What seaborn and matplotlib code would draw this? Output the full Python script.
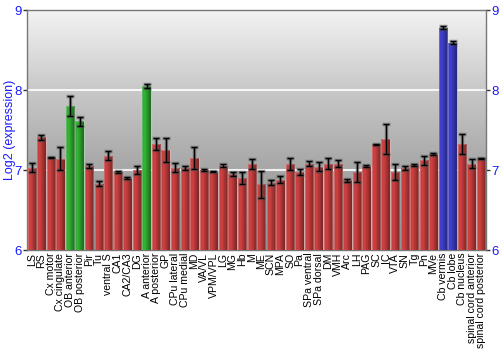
import numpy as np
import pandas as pd
import matplotlib
matplotlib.use("Agg")
import matplotlib.pyplot as plt
import matplotlib.colors as mcolors
import seaborn as sns

regions = ["LS", "RS", "Cx motor", "Cx cingulate", "OB anterior", "OB posterior", "Pir", "Tu",
           "ventral S", "CA1", "CA2/CA3", "DG", "A anterior", "A posterior", "GP", "CPu lateral",
           "CPu medial", "MD", "VA/VL", "VPM/VPL", "LG", "MG", "Hb", "M", "ME", "SCN", "MPA", "SO",
           "Pa", "SPa ventral", "SPa dorsal", "DM", "VMH", "Arc", "LH", "PAG", "SC", "IC", "VTA",
           "SN", "Tg", "Pn", "MVe", "Cb vermis", "Cb lobe", "Cb nucleus", "spinal cord anterior",
           "spinal cord posterior"]
expression = [7.03, 7.41, 7.16, 7.14, 7.80, 7.61, 7.05, 6.83, 7.18, 6.97, 6.90, 7.00,
              8.05, 7.33, 7.25, 7.03, 7.025, 7.15, 7.00, 6.98, 7.054, 6.95, 6.90, 7.075,
              6.82, 6.84, 6.88, 7.075, 6.98, 7.08, 7.04, 7.08, 7.08, 6.87, 6.975, 7.046,
              7.32, 7.39, 6.98, 7.025, 7.06, 7.12, 7.20, 8.78, 8.59, 7.325, 7.08, 7.146]
error = [0.056, 0.033, 0.005, 0.146, 0.12, 0.058, 0.03, 0.033, 0.054, 0.012, 0.01, 0.048,
         0.025, 0.075, 0.146, 0.052, 0.03, 0.14, 0.012, 0.005, 0.015, 0.03, 0.08, 0.058,
         0.167, 0.03, 0.044, 0.075, 0.038, 0.03, 0.058, 0.073, 0.048, 0.015, 0.12, 0.012,
         0.003, 0.19, 0.10, 0.02, 0.015, 0.058, 0.017, 0.023, 0.017, 0.123, 0.056, 0.008]
group = ["other"] * 48
for i in (4, 5, 12):
    group[i] = "green"
for i in (43, 44):
    group[i] = "blue"

base_colors = {"other": "#bc3a3a", "green": "#2ea42e", "blue": "#3a3abc"}

df = pd.DataFrame({"region": regions, "expression": expression, "group": group})

sns.set_style("white")
plt.rcParams["font.family"] = ["Liberation Sans", "DejaVu Sans"]

fig = plt.figure(figsize=(5, 3.5), dpi=100)
ax = fig.add_axes([0.054, 0.2857, 0.918, 0.6857])

sns.barplot(data=df, x="region", y="expression", hue="group", palette=base_colors,
            dodge=False, width=0.87, saturation=1, legend=False, ax=ax, zorder=3,
            order=regions)

ax.set_xlim(-0.5, 47.5)
ax.set_ylim(6, 9)

# background gradient
bg = np.linspace(0, 1, 256).reshape(-1, 1)
bg_cmap = mcolors.LinearSegmentedColormap.from_list("bg", ["#8c8c8c", "#a6a6a6", "#c8c8c8", "#f3f3f3"])
ax.imshow(bg, extent=[-0.5, 47.5, 6, 9], aspect="auto", origin="lower", cmap=bg_cmap,
          zorder=0, interpolation="bilinear")
for yv in (7, 8):
    ax.axhline(yv, color="white", lw=1.5, alpha=0.85, zorder=1)

# gradient shading in bars
grad = np.concatenate([np.linspace(0.97, 1.12, 30), np.linspace(1.12, 0.62, 70)]).reshape(1, -1)
for p in list(ax.patches):
    w = p.get_width()
    if w <= 0:
        continue
    x0 = p.get_x()
    idx = int(round(x0 + w / 2))
    rgb = np.array(mcolors.to_rgb(base_colors[group[idx]]))
    img = np.clip(grad[..., None] * rgb[None, None, :], 0, 1)
    top = p.get_y() + p.get_height()
    im = ax.imshow(img, extent=[x0, x0 + w, 6, top], aspect="auto", zorder=3.5,
                   interpolation="bilinear")
    im.set_clip_path(p)
    p.set_edgecolor((1, 1, 1, 0.25))
    p.set_linewidth(0.8)
    ax.add_patch(plt.Rectangle((x0, 6), w, top - 6, fill=False,
                               edgecolor=(1, 1, 1, 0.25), lw=0.8, zorder=3.6))

xs = np.arange(len(regions))
ax.errorbar(xs, expression, yerr=error, fmt="none", ecolor=(0.3, 0.3, 0.3, 0.5),
            elinewidth=2.5, capsize=3, capthick=2.5, zorder=4)
ax.errorbar(xs, expression, yerr=error, fmt="none", ecolor="black",
            elinewidth=1, capsize=2.5, capthick=1, zorder=5)

ax.set_xticks(xs)
ax.set_xticklabels(regions, rotation=90, fontsize=7.6, color="black")
ax.set_yticks([6, 7, 8, 9])
ax.set_yticklabels(["6", "7", "8", "9"], fontsize=9.5, color="#1a1aff")
ax.tick_params(axis="x", length=0, pad=2)
ax.tick_params(axis="y", length=3, width=1, color="#333333", pad=1, left=True,
               right=True, labelright=True)
ax.set_xlabel("")
ax.set_ylabel("Log2 (expression)", fontsize=9, color="#1a1aff")
ax.yaxis.set_label_coords(-0.025, 0.5)
for s in ax.spines.values():
    s.set_color("#777777")
    s.set_linewidth(1)
    s.set_visible(True)

fig.savefig("out.png", dpi=100)
